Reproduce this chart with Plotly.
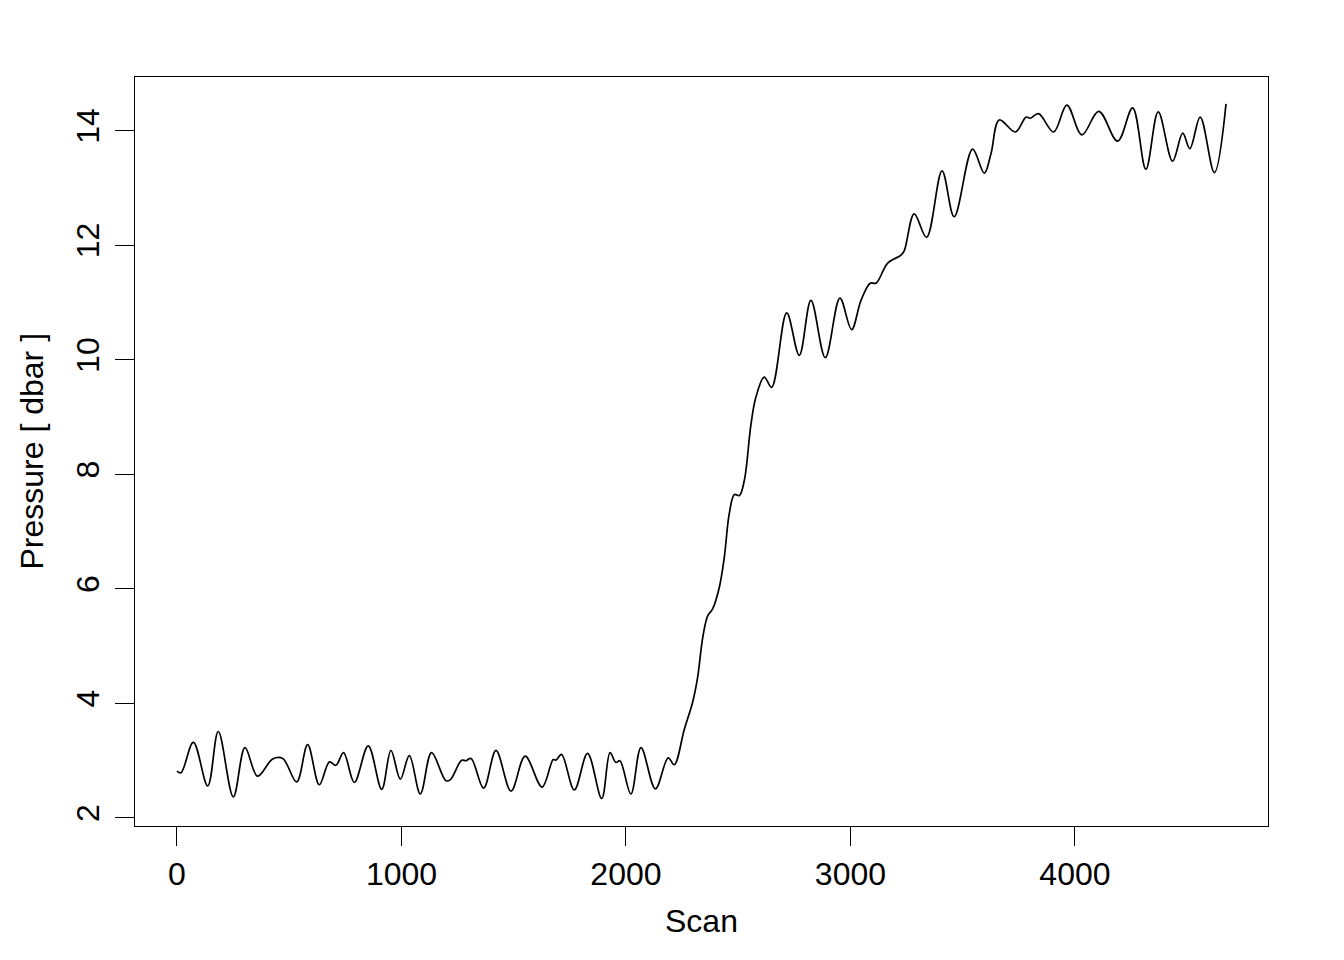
import plotly.graph_objects as go

# NOTE: 読み取ったスキャン番号と圧力
scan = [0, 18, 73, 137, 184, 251, 303, 359, 426, 471, 533, 582, 634, 679, 708, 742,
        790, 852, 912, 953, 995, 1035, 1084, 1134, 1198, 1218, 1268, 1287, 1310, 1366,
        1421, 1488, 1551, 1626, 1676, 1688, 1713, 1770, 1829, 1892, 1929, 1955, 1973,
        2022, 2067, 2131, 2188, 2215, 2260, 2297, 2319, 2342, 2364, 2386, 2416, 2438,
        2460, 2483, 2505, 2527, 2557, 2579, 2616, 2649, 2716, 2772, 2824, 2888, 2953,
        3005, 3047, 3088, 3114, 3166, 3225, 3240, 3284, 3339, 3408, 3462, 3544, 3596,
        3626, 3663, 3735, 3782, 3800, 3838, 3905, 3964, 4031, 4106, 4190, 4257, 4316,
        4371, 4435, 4480, 4512, 4558, 4621, 4673]
pressure = [2.82, 2.79, 3.32, 2.56, 3.51, 2.37, 3.23, 2.73, 3.03, 3.04, 2.63, 3.28, 2.58,
            2.98, 2.92, 3.14, 2.62, 3.26, 2.50, 3.18, 2.68, 3.09, 2.42, 3.14, 2.65, 2.67,
            3.01, 3.00, 3.04, 2.52, 3.18, 2.47, 3.08, 2.54, 3.02, 3.01, 3.11, 2.49, 3.13,
            2.34, 3.14, 2.97, 3.00, 2.42, 3.23, 2.51, 3.05, 2.93, 3.55, 4.02, 4.45, 5.15,
            5.53, 5.65, 6.03, 6.55, 7.31, 7.65, 7.63, 7.89, 8.88, 9.35, 9.70, 9.52, 10.82,
            10.08, 11.04, 10.04, 11.08, 10.53, 11.04, 11.34, 11.34, 11.69, 11.83, 11.91,
            12.55, 12.14, 13.30, 12.50, 13.68, 13.26, 13.60, 14.19, 13.98, 14.24, 14.22,
            14.30, 13.98, 14.45, 13.93, 14.34, 13.82, 14.40, 13.33, 14.33, 13.47, 13.96,
            13.69, 14.24, 13.27, 14.47]

x_ticks = [0, 1000, 2000, 3000, 4000]
y_ticks = [2, 4, 6, 8, 10, 12, 14]

FONT = dict(family='Liberation Sans, Arial, sans-serif', size=32, color='black')

fig = go.Figure(data=[go.Scatter(x=scan, y=pressure, mode='lines',
                                 line=dict(color='black', width=1.7, shape='spline', smoothing=1.0),
                                 hoverinfo='x+y')])

axis_common = dict(showgrid=False, zeroline=False, showline=True, linecolor='black', linewidth=1.3,
                   mirror=True, ticks='outside', ticklen=19, tickwidth=1.3, tickcolor='black',
                   tickfont=FONT)

fig.update_layout(
    width=1344, height=960,
    paper_bgcolor='white', plot_bgcolor='white',
    # NOTE: ページ本体の余白(約7px)を差し引いたマージン
    margin=dict(l=127, r=84, t=69, b=142),
    showlegend=False,
    xaxis=dict(range=[-187, 4860], tickvals=x_ticks, ticktext=[str(v) for v in x_ticks],
               ticklabelstandoff=0, **axis_common),
    yaxis=dict(range=[1.86, 14.94], tickvals=y_ticks, ticktext=[str(v) for v in y_ticks],
               tickangle=-90, ticklabelstandoff=3, **axis_common),
    annotations=[
        dict(text='Scan', xref='paper', yref='paper', x=0.5, y=0, yshift=-95,
             showarrow=False, font=FONT, xanchor='center', yanchor='middle'),
        dict(text='Pressure [ dbar ]', xref='paper', yref='paper', x=0, y=0.5, xshift=-104,
             showarrow=False, font=FONT, textangle=-90, xanchor='center', yanchor='middle'),
    ],
)

fig.write_html("out.html")
